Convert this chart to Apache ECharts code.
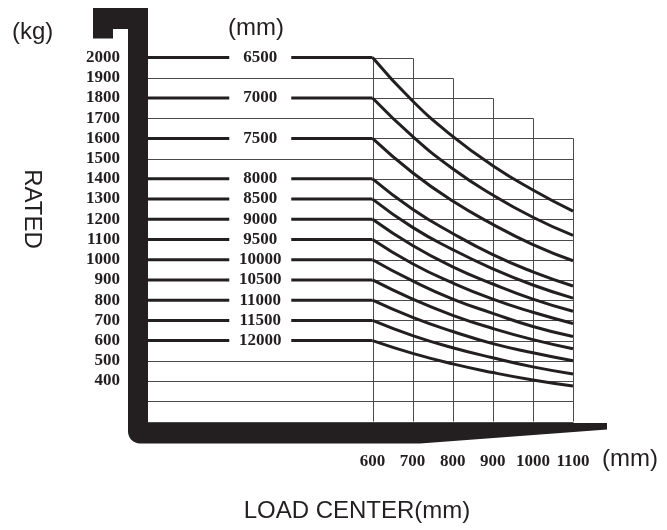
<!DOCTYPE html>
<html>
<head>
<meta charset="utf-8">
<script src="https://cdn.jsdelivr.net/npm/echarts@6/dist/echarts.min.js"></script>
<style>
  html, body { margin: 0; padding: 0; background: #fff; }
  #main { width: 667px; height: 530px; }
</style>
</head>
<body>
<div id="main"></div>
<script>
// load centers (mm) on the x axis
var loadCenters = [600, 700, 800, 900, 1000, 1100];
// lift heights (mm), one curve each
var mastHeights = ['6500', '7000', '7500', '8000', '8500', '9000', '9500', '10000', '10500', '11000', '11500', '12000'];
// rated capacity (kg) at each load center
var cap6500  = [2000, 1785, 1610, 1465, 1345, 1240];
var cap7000  = [1800, 1610, 1450, 1320, 1210, 1120];
var cap7500  = [1600, 1430, 1290, 1175, 1075, 995];
var cap8000  = [1400, 1250, 1130, 1025, 940, 870];
var cap8500  = [1300, 1160, 1050, 955, 875, 810];
var cap9000  = [1200, 1070, 965, 880, 805, 745];
var cap9500  = [1100, 980, 885, 805, 740, 685];
var cap10000 = [1000, 895, 805, 735, 670, 620];
var cap10500 = [900, 805, 725, 660, 605, 560];
var cap11000 = [800, 715, 645, 585, 540, 500];
var cap11500 = [700, 625, 565, 515, 470, 435];
var cap12000 = [600, 537, 485, 442, 405, 375];
var capacities = [cap6500, cap7000, cap7500, cap8000, cap8500, cap9000,
                  cap9500, cap10000, cap10500, cap11000, cap11500, cap12000];
// horizontal grid levels (kg); labels only from 400 up
var yLevels = [200, 300, 400, 500, 600, 700, 800, 900, 1000, 1100, 1200,
               1300, 1400, 1500, 1600, 1700, 1800, 1900, 2000];
// top of each vertical grid line (stair shape)
var colTops = [2000, 2000, 1900, 1800, 1700, 1600];

var X_MIN = 40;          // left end of the flat part
var INK = '#231f20';
var GRID = '#4a4a4a';
var numFont = 'Liberation Serif';
var txtFont = 'Liberation Sans';

var chart = echarts.init(document.getElementById('main'));

// horizontal grid lines end at the last column tall enough
var hLines = yLevels.map(function (lvl) {
  var xEnd = loadCenters[0];
  loadCenters.forEach(function (x, j) { if (colTops[j] >= lvl) xEnd = x; });
  return [lvl, xEnd];
});
var vLines = loadCenters.map(function (x, j) { return [x, colTops[j]]; });

function renderH(params, api) {
  var p1 = api.coord([X_MIN, api.value(0)]);
  var p2 = api.coord([api.value(1), api.value(0)]);
  var y = Math.round(p1[1]) + 0.5;
  return { type: 'line', shape: { x1: p1[0], y1: y, x2: Math.round(p2[0]) + 0.5, y2: y },
           style: { stroke: GRID, lineWidth: 1 } };
}
function renderV(params, api) {
  var p1 = api.coord([api.value(0), yLevels[0]]);
  var p2 = api.coord([api.value(0), api.value(1)]);
  var x = Math.round(p1[0]) + 0.5;
  return { type: 'line', shape: { x1: x, y1: p1[1], x2: x, y2: Math.round(p2[1]) + 0.5 },
           style: { stroke: GRID, lineWidth: 1 } };
}

var series = [
  { type: 'custom', silent: true, z: 1, renderItem: renderH, data: hLines, encode: { x: 1, y: 0 } },
  { type: 'custom', silent: true, z: 1, renderItem: renderV, data: vLines, encode: { x: 0, y: 1 } }
];

var labelMid = (X_MIN + loadCenters[0]) / 2;
var labelData = [];

capacities.forEach(function (caps, i) {
  // flat part up to 600 mm
  series.push({
    type: 'line', symbol: 'none', silent: true, z: 2,
    lineStyle: { color: INK, width: 3 },
    data: [[X_MIN, caps[0]], [loadCenters[0], caps[0]]]
  });
  // derating curve
  series.push({
    type: 'line', symbol: 'none', silent: true, z: 2, smooth: 0.5,
    lineStyle: { color: INK, width: 3 },
    data: loadCenters.map(function (x, j) { return [x, caps[j]]; })
  });
  labelData.push({ value: [labelMid, caps[0]], name: mastHeights[i] });
});

series.push({
  type: 'scatter', silent: true, z: 3, symbolSize: 1,
  itemStyle: { color: '#fff', opacity: 1 },
  label: {
    show: true, position: 'inside', formatter: '{b}',
    fontFamily: numFont, fontWeight: 'bold', fontSize: 17, color: INK,
    backgroundColor: '#fff', width: 62, align: 'center', lineHeight: 14
  },
  data: labelData
});

// fork outline, rounded heel at bottom left
var forkPts = [[93, 8], [148, 8], [148, 423], [607, 423], [607, 429.5], [420, 443.5]];
for (var k = 0; k <= 8; k++) {
  var a = Math.PI / 2 + (k / 8) * Math.PI / 2;
  forkPts.push([140 + 12 * Math.cos(a), 431.5 + 12 * Math.sin(a)]);
}
forkPts.push([128, 29], [113, 29], [113, 38.5], [93, 38.5]);

var option = {
  animation: false,
  backgroundColor: '#fff',
  grid: { left: 148, right: 94, top: 57.5, bottom: 108.5 },
  xAxis: {
    type: 'value', min: X_MIN, max: 1100,
    axisLine: { show: false }, axisTick: { show: false }, splitLine: { show: false },
    axisLabel: {
      customValues: loadCenters, margin: 32,
      fontFamily: numFont, fontWeight: 'bold', fontSize: 17, color: INK,
      formatter: function (v) { return String(v); }
    }
  },
  yAxis: {
    type: 'value', min: 200, max: 2000, interval: 100,
    axisLine: { show: false }, axisTick: { show: false }, splitLine: { show: false },
    axisLabel: {
      margin: 28, fontFamily: numFont, fontWeight: 'bold', fontSize: 17, color: INK,
      formatter: function (v) { return v >= 400 ? String(v) : ''; }
    }
  },
  graphic: [
    { type: 'polygon', z: 10, silent: true,
      shape: { points: forkPts }, style: { fill: INK } },
    { type: 'text', x: 12, y: 32.5, silent: true,
      style: { text: '(kg)', font: '24px ' + txtFont, fill: INK, textVerticalAlign: 'middle' } },
    { type: 'text', x: 228, y: 28, silent: true,
      style: { text: '(mm)', font: '24px ' + txtFont, fill: INK, textVerticalAlign: 'middle' } },
    { type: 'text', x: 602, y: 459, silent: true,
      style: { text: '(mm)', font: '24px ' + txtFont, fill: INK, textVerticalAlign: 'middle' } },
    { type: 'text', x: 357, y: 511, silent: true,
      style: { text: 'LOAD CENTER(mm)', font: '24px ' + txtFont, fill: INK,
               textAlign: 'center', textVerticalAlign: 'middle' } },
    { type: 'text', x: 32, y: 209, rotation: -Math.PI / 2, silent: true,
      style: { text: 'RATED', font: '24px ' + txtFont, fill: INK,
               textAlign: 'center', textVerticalAlign: 'middle' } }
  ],
  series: series
};

chart.setOption(option);
</script>
</body>
</html>
